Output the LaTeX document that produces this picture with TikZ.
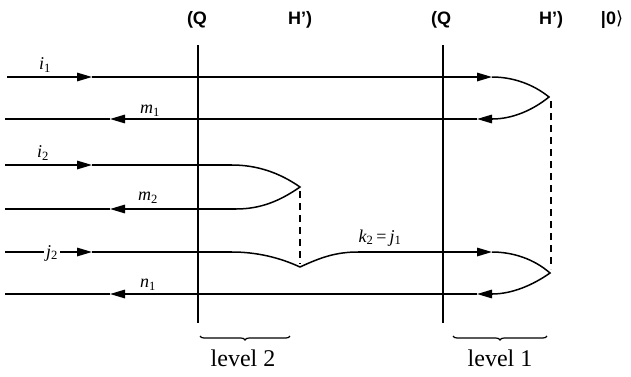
\documentclass[tikz,border=0pt]{standalone}
\usepackage{fontspec}
\setmainfont{Liberation Serif}
\setsansfont{Liberation Sans}
\newfontfamily\djv{DejaVu Sans}
\usetikzlibrary{arrows.meta,decorations.pathreplacing}
\newcommand{\sbs}[1]{\textsubscript{\upshape #1}}
\begin{document}
\begin{tikzpicture}[x=1pt,y=-1pt,
  ln/.style={line width=1.5pt},
  vl/.style={line width=1.2pt},
  arr/.style={line width=1.5pt,-{Triangle[length=15pt,width=8.5pt]}},
  dsh/.style={line width=1.4pt,dash pattern=on 7pt off 5pt},
  hdr/.style={font=\sffamily\bfseries\fontsize{18}{20}\selectfont,inner sep=0pt},
  lbl/.style={font=\itshape\fontsize{18}{20}\selectfont,inner sep=0pt},
  lev/.style={font=\fontsize{24}{28}\selectfont,inner sep=0pt},
  brc/.style={decorate,decoration={brace,mirror,amplitude=4pt},line width=1.2pt}]
\useasboundingbox (0,0) rectangle (631,376);

% coordinates
\coordinate (s1) at (7,77);   \coordinate (t1) at (92,77);  \coordinate (r1) at (477,77); \coordinate (e1) at (492,77);
\coordinate (A) at (549,97);
\coordinate (e2) at (492,119); \coordinate (r2) at (477,119); \coordinate (t2) at (110,119); \coordinate (s2) at (5,119);
\coordinate (s3) at (5,165);  \coordinate (t3) at (92,165);  \coordinate (e3) at (232,165);
\coordinate (B) at (300,187);
\coordinate (e4) at (236,209); \coordinate (t4) at (110,209); \coordinate (s4) at (5,209);
\coordinate (s5) at (5,252);  \coordinate (t5) at (92,252);  \coordinate (e5) at (232,252);
\coordinate (C) at (300,267); \coordinate (f5) at (358,252);  \coordinate (r5) at (492,252);
\coordinate (D) at (550,273);
\coordinate (e6) at (492,294); \coordinate (r6) at (477,294); \coordinate (t6) at (110,294); \coordinate (s6) at (5,294);
\coordinate (v1t) at (198,45); \coordinate (v1b) at (198,323);
\coordinate (v2t) at (443,45); \coordinate (v2b) at (443,323);
\coordinate (d1t) at (300,191); \coordinate (d1b) at (300,264);
\coordinate (d2t) at (551,101); \coordinate (d2b) at (551,269);
\coordinate (b1l) at (200,336); \coordinate (b1r) at (290,336);
\coordinate (b2l) at (453,336); \coordinate (b2r) at (547,336);

% verticals
\draw[vl] (v1t) -- (v1b);
\draw[vl] (v2t) -- (v2b);

% line 1 / 2 with right bubble
\draw[arr] (s1) -- (t1);
\draw[ln] (t1) -- (r1);
\draw[arr] (r1) -- (e1);
\draw[ln] (e1) .. controls (512.7,77) and (532.9,84) .. (A)
               .. controls (532.9,110) and (512.7,119) .. (e2);
\draw[arr] (e2) -- (r2);
\draw[arr] (r2) -- (t2);
\draw[ln] (t2) -- (s2);

% line 3 / 4 with left bubble
\draw[arr] (s3) -- (t3);
\draw[ln] (t3) -- (e3);
\draw[ln] (e3) .. controls (257,165) and (279.5,172.7) .. (B)
               .. controls (279.5,201.3) and (260,209) .. (e4);
\draw[arr] (e4) -- (t4);
\draw[ln] (t4) -- (s4);

% line 5 / 6
\draw[arr] (s5) -- (t5);
\draw[ln] (t5) -- (e5);
\draw[ln] (e5) .. controls (255.5,252) and (278.7,257.1) .. (C)
               .. controls (321.3,257.1) and (336.5,252) .. (f5);
\draw[arr] (f5) -- (r5);
\draw[ln] (r5) .. controls (513,252) and (534,259) .. (D)
               .. controls (533,285) and (512,294) .. (e6);
\draw[arr] (e6) -- (r6);
\draw[arr] (r6) -- (t6);
\draw[ln] (t6) -- (s6);

% dashed
\draw[dsh] (d1t) -- (d1b);
\draw[dsh] (d2t) -- (d2b);

% labels
\node[lbl] (li1) at (45,65) {i\sbs{1}};
\node[lbl] (lm1) at (150,111) {m\sbs{1}};
\node[lbl] (li2) at (43,153) {i\sbs{2}};
\node[lbl] (lm2) at (148,198) {m\sbs{2}};
\node[lbl,fill=white,inner sep=2pt] (lj2) at (52,253) {j\sbs{2}};
\node[lbl] (ln1) at (148,285) {n\sbs{1}};
\node[lbl] (lk) at (380,238) {k\sbs{2}\,{\upshape=}\,j\sbs{1}};

% headers
\node[hdr] (q1) at (197,20) {(Q};
\node[hdr] (h1) at (300,20) {H’)};
\node[hdr] (q2) at (441,20) {(Q};
\node[hdr] (h2) at (551,20) {H’)};
\node[hdr] (ket) at (612,20) {|0{\djv\mdseries ⟩}};

% braces
\draw[brc] (b1l) -- (b1r);
\draw[brc] (b2l) -- (b2r);
\node[lev] (lv2) at (243,358) {level 2};
\node[lev] (lv1) at (500,358) {level 1};
\end{tikzpicture}
\end{document}
